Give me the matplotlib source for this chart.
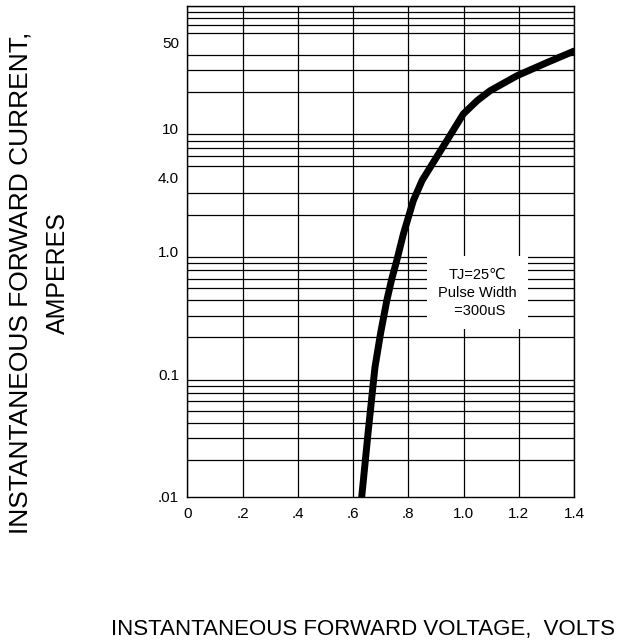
import matplotlib
matplotlib.use("Agg")
import matplotlib.pyplot as plt
from matplotlib.ticker import FixedLocator, LogLocator, NullFormatter

plt.rcParams['font.family'] = ['Liberation Sans', 'DejaVu Sans', 'Noto Sans CJK SC']

voltage = [0.631, 0.655, 0.679, 0.700, 0.722, 0.740, 0.758, 0.782, 0.818, 0.850,
           0.879, 0.939, 0.999, 1.050, 1.096, 1.193, 1.302, 1.401]
current = [0.01, 0.035, 0.114, 0.22, 0.40, 0.60, 0.845, 1.39, 2.6, 3.8,
           4.84, 7.98, 13.2, 17.0, 20.4, 27.0, 34.6, 43.0]

x_ticks = [0, 0.2, 0.4, 0.6, 0.8, 1.0, 1.2, 1.4]
x_tick_labels = ['0', '.2', '.4', '.6', '.8', '1.0', '1.2', '1.4']
y_ticks = [0.01, 0.1, 1.0, 4.0, 10, 50]
y_tick_labels = ['.01', '0.1', '1.0', '4.0', '10', '50']

fig = plt.figure(figsize=(6.26, 6.44), dpi=100)
ax = fig.add_axes([0.2995, 0.2283, 0.6175, 0.7624])
ax.set_yscale('log')
ax.set_xlim(0, 1.4)
ax.set_ylim(0.01, 100)

ax.yaxis.set_major_locator(FixedLocator(y_ticks))
ax.set_yticklabels(y_tick_labels)
ax.yaxis.set_minor_locator(LogLocator(base=10, subs=range(1, 10), numticks=50))
ax.yaxis.set_minor_formatter(NullFormatter())
ax.set_xticks(x_ticks)
ax.set_xticklabels(x_tick_labels)
ax.tick_params(axis='both', which='both', length=0, labelsize=11, colors='black')
ax.tick_params(axis='x', pad=7)
ax.tick_params(axis='y', pad=6)

ax.grid(False)
for xv in x_ticks:
    ax.axvline(xv, color='black', lw=0.9, zorder=1)
for yv in ax.yaxis.get_minorticklocs():
    if 0.01 <= yv <= 100:
        ax.axhline(yv, color='black', lw=0.9, zorder=1)

for s in ax.spines.values():
    s.set_color('black')
    s.set_linewidth(1.0)

ax.plot(voltage, current, color='black', lw=5, solid_capstyle='round', zorder=3)

ax.text(1.05, 0.46, "TJ=25\u2103\nPulse Width\n =300uS", ha='center', va='center',
        fontsize=10.5, linespacing=1.4,
        bbox=dict(facecolor='white', edgecolor='none', pad=8), zorder=4)

fig.text(0.032, 0.561, "INSTANTANEOUS FORWARD CURRENT,", rotation=90,
         ha='center', va='center', fontsize=19)
fig.text(0.092, 0.576, "AMPERES", rotation=90, ha='center', va='center', fontsize=18)
fig.text(0.58, 0.022, "INSTANTANEOUS FORWARD VOLTAGE,  VOLTS",
         ha='center', va='center', fontsize=16)

fig.savefig("out.png", dpi=100)
